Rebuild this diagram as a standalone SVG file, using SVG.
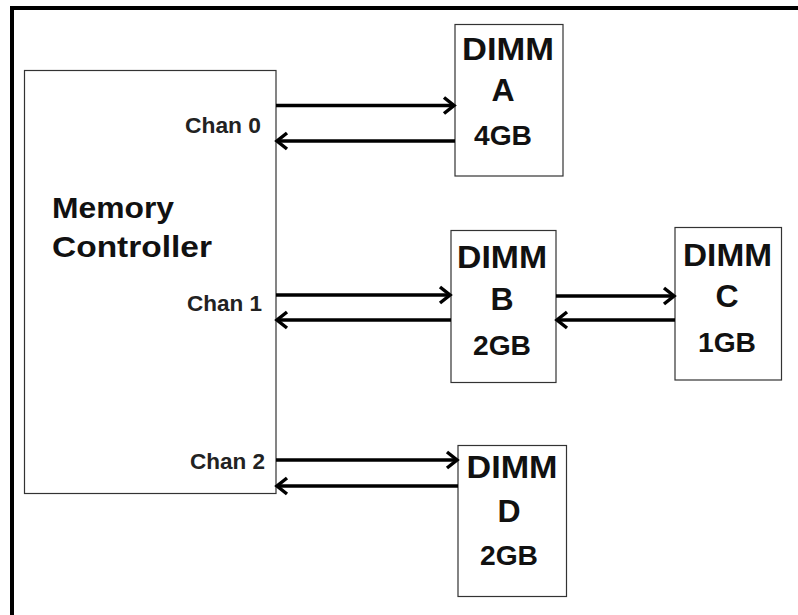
<svg xmlns="http://www.w3.org/2000/svg" width="798" height="615" viewBox="0 0 798 615">
<defs>
<style>
.box{fill:#fff;stroke:#333;stroke-width:1.2}
.big{font-family:"Liberation Sans",Arial,sans-serif;font-weight:bold;font-size:32px;fill:#111;text-anchor:middle}
.mid{font-family:"Liberation Sans",Arial,sans-serif;font-weight:bold;font-size:27px;fill:#111;text-anchor:middle}
.chan{font-family:"Liberation Sans",Arial,sans-serif;font-weight:bold;font-size:22px;fill:#222;text-anchor:end}
.mc{font-family:"Liberation Sans",Arial,sans-serif;font-weight:bold;font-size:30px;fill:#111}
.ln{stroke:#000;stroke-width:3.5;fill:none;marker-end:url(#ah)}
</style>
<marker id="ah" markerUnits="userSpaceOnUse" markerWidth="20" markerHeight="20" viewBox="-12 -10 14 20" refX="0" refY="0" orient="auto">
<path d="M-10,-8 L0,0 L-10,8" fill="none" stroke="#000" stroke-width="3.5" stroke-linejoin="miter"/>
</marker>
</defs>
<rect width="798" height="615" fill="#fff"/>
<g id="frame">
<line x1="10" y1="8" x2="798" y2="8" stroke="#000" stroke-width="4"/>
<line x1="12" y1="6" x2="12" y2="615" stroke="#000" stroke-width="4"/>
</g>
<g id="memory-controller">
<rect class="box" x="24.5" y="70.5" width="251.5" height="423"/>
<text class="mc" x="52" y="218" textLength="122" lengthAdjust="spacingAndGlyphs">Memory</text>
<text class="mc" x="52" y="257" textLength="160" lengthAdjust="spacingAndGlyphs">Controller</text>
<text class="chan" x="261" y="133" textLength="76" lengthAdjust="spacingAndGlyphs">Chan 0</text>
<text class="chan" x="262" y="311" textLength="75" lengthAdjust="spacingAndGlyphs">Chan 1</text>
<text class="chan" x="265" y="469" textLength="75" lengthAdjust="spacingAndGlyphs">Chan 2</text>
</g>
<g id="dimm-a">
<rect class="box" x="455" y="24.5" width="108" height="151.5"/>
<text class="big" x="508" y="60" textLength="92" lengthAdjust="spacingAndGlyphs">DIMM</text>
<text class="big" x="503" y="101">A</text>
<text class="mid" x="503" y="145" textLength="58" lengthAdjust="spacingAndGlyphs">4GB</text>
</g>
<g id="dimm-b">
<rect class="box" x="451" y="230.5" width="105" height="152"/>
<text class="big" x="502" y="268" textLength="90" lengthAdjust="spacingAndGlyphs">DIMM</text>
<text class="big" x="502" y="310">B</text>
<text class="mid" x="502" y="355" textLength="58" lengthAdjust="spacingAndGlyphs">2GB</text>
</g>
<g id="dimm-c">
<rect class="box" x="675" y="227.5" width="106.5" height="152.5"/>
<text class="big" x="727.5" y="266" textLength="89" lengthAdjust="spacingAndGlyphs">DIMM</text>
<text class="big" x="727" y="307">C</text>
<text class="mid" x="727" y="352" textLength="58" lengthAdjust="spacingAndGlyphs">1GB</text>
</g>
<g id="dimm-d">
<rect class="box" x="458" y="445.5" width="108.5" height="151"/>
<text class="big" x="512" y="478" textLength="91" lengthAdjust="spacingAndGlyphs">DIMM</text>
<text class="big" x="509" y="522">D</text>
<text class="mid" x="509" y="565" textLength="58" lengthAdjust="spacingAndGlyphs">2GB</text>
</g>
<g id="connectors">
<line class="ln" x1="276" y1="105.5" x2="454" y2="105.5"/>
<line class="ln" x1="455" y1="141" x2="277" y2="141"/>
<line class="ln" x1="276" y1="295" x2="450" y2="295"/>
<line class="ln" x1="451" y1="320" x2="277" y2="320"/>
<line class="ln" x1="556" y1="296" x2="674" y2="296"/>
<line class="ln" x1="675" y1="320" x2="557" y2="320"/>
<line class="ln" x1="276" y1="460" x2="457" y2="460"/>
<line class="ln" x1="458" y1="486" x2="277" y2="486"/>
</g>
</svg>
